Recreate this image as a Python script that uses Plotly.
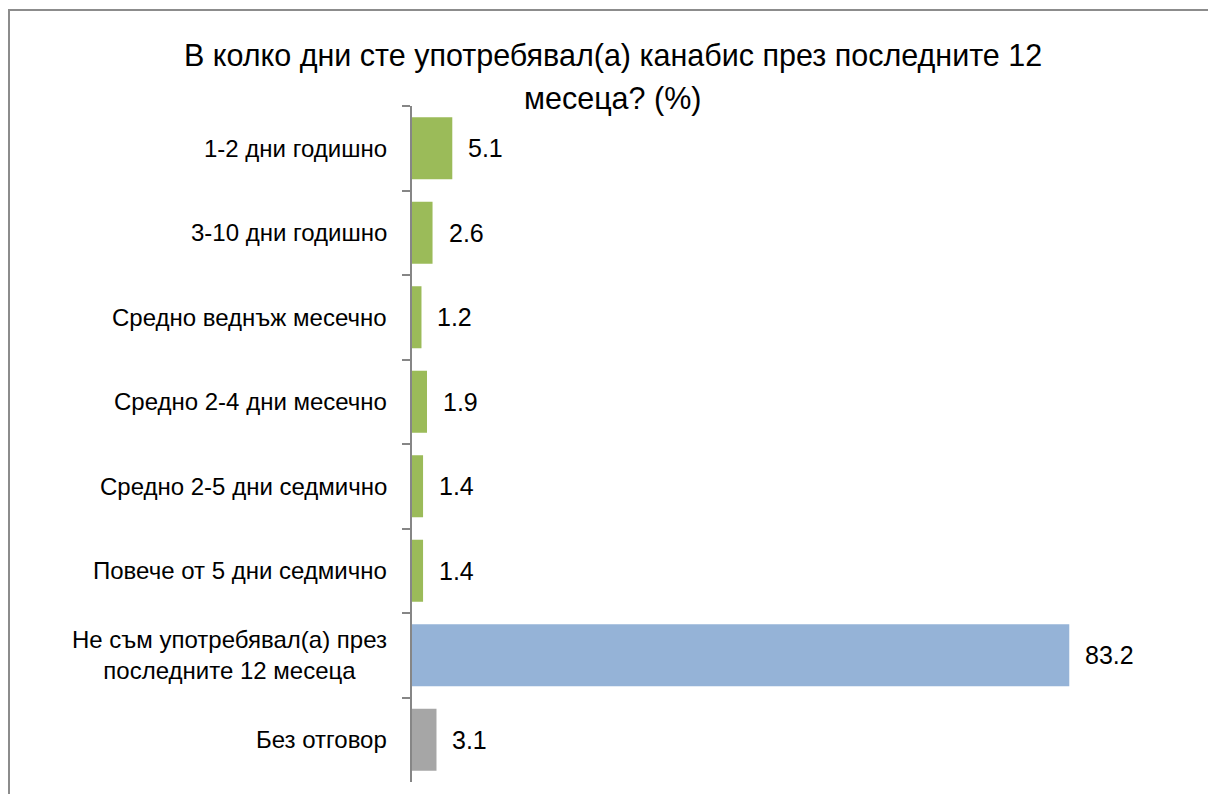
"""
Cannabis use frequency chart (horizontal bars), Bulgarian survey.
"""

import plotly.graph_objects as go

FONT = "Liberation Sans, Arial, sans-serif"

title_lines = [
    "В колко дни сте употребявал(а) канабис през последните 12",
    "месеца? (%)",
]

categories = [
    "1-2 дни годишно",
    "3-10 дни годишно",
    "Средно веднъж месечно",
    "Средно 2-4 дни месечно",
    "Средно 2-5 дни седмично",
    "Повече от 5 дни седмично",
    "Не съм употребявал(а) през<br>последните 12 месеца",
    "Без отговор",
]
values = [5.1, 2.6, 1.2, 1.9, 1.4, 1.4, 83.2, 3.1]
colors = ["#9BBB59"] * 6 + ["#95B3D7", "#A6A6A6"]

fig = go.Figure(
    go.Bar(
        x=values,
        y=categories,
        orientation="h",
        marker_color=colors,
        marker_line_width=0,
        hoverinfo="skip",
    )
)

annotations = []
# category labels (centered multi-line)
for cat in categories:
    annotations.append(dict(
        x=0, xref="paper", y=cat, yref="y",
        text=cat, showarrow=False, xanchor="right", yanchor="middle",
        align="center", xshift=-23,
        font=dict(family=FONT, size=24, color="#000000"),
    ))
# value labels
for cat, v in zip(categories, values):
    annotations.append(dict(
        x=v, xref="x", y=cat, yref="y",
        text=f"{v:.1f}", showarrow=False, xanchor="left", yanchor="middle",
        xshift=14,
        font=dict(family=FONT, size=25, color="#000000"),
    ))
# title, two lines
for line, ypos in zip(title_lines, [1.074, 1.011]):
    annotations.append(dict(
        x=0.2827, xref="paper", y=ypos, yref="paper",
        text=line, showarrow=False, xanchor="center", yanchor="middle",
        font=dict(family=FONT, size=30.5, color="#000000"),
    ))

fig.update_layout(
    width=1208,
    height=794,
    plot_bgcolor="white",
    paper_bgcolor="white",
    bargap=0.266,
    showlegend=False,
    margin=dict(l=412, r=85, t=106, b=12),
    xaxis=dict(range=[0, 90], visible=False, fixedrange=True),
    yaxis=dict(
        autorange="reversed",
        showticklabels=False,
        showline=True,
        linecolor="#868686",
        linewidth=2,
        ticks="outside",
        ticklen=8,
        tickwidth=2,
        tickcolor="#868686",
        tickson="boundaries",
        showgrid=False,
        zeroline=False,
        fixedrange=True,
    ),
    annotations=annotations,
    shapes=[dict(
        type="rect", xref="paper", yref="paper",
        x0=-0.5668, x1=1.3, y0=-0.1, y1=1.142,
        line=dict(color="#8C8C8C", width=2),
        fillcolor="rgba(0,0,0,0)", layer="below",
    )],
)

fig.write_html(
    "out.html",
    config={"displayModeBar": False},
    post_script="document.body.style.margin='0';document.body.style.overflow='hidden';",
)
